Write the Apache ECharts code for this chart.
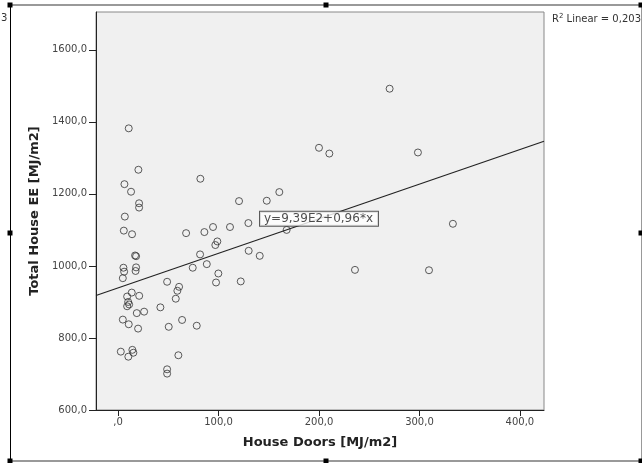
<!DOCTYPE html>
<html><head><meta charset="utf-8">
<script src="https://cdn.jsdelivr.net/npm/echarts@6/dist/echarts.min.js"></script>
<style>html,body{margin:0;padding:0;background:#fff}#c{width:642px;height:463px}</style>
</head><body><div id="c"></div>
<script>
// Data: House Doors [MJ/m2] (x) vs Total House EE [MJ/m2] (y)
var doorsX = [10.6,20.2,6.3,12.9,20.9,20.9,6.7,5.7,13.9,81.9,67.7,85.9,16.9,17.9,81.6,5.3,17.9,88.3,6,17.4,4.7,74.3,48.8,60.7,59,57.4,13.6,21,9,10,11,9,42.1,25.9,18.6,4.7,10.6,19.9,50.4,63.7,78.3,2.7,14.2,15.2,10.2,60,48.8,48.8,160.5,120.4,148,94.5,111.4,129.7,167.8,98.8,96.8,130,141,99.8,97.5,122.1,270.3,200,210.3,298.5,333.3,235.8,309.5];
var totalEE = [1382,1267,1227,1206,1174,1162,1137,1098,1088,1242,1091,1094,1029,1027,1032,995,996,1005,984,986,966,995,956,942,931,909,926,917,915,900,893,888,885,873,869,851,838,826,831,850,834,762,767,759,748,752,713,701,1205,1180,1181,1108,1108,1119,1100,1068,1058,1042,1028,979,954,957,1492,1328,1312,1315,1117,989,988];
var fitIntercept = 939;
var fitSlope = 0.96;
var fitLabelX = 200;
var xTicks = [0,100,200,300,400];
var yTicks = [600,800,1000,1200,1400,1600];
var xMin = -22, xMax = 424, yMin = 600, yMax = 1705;
var xTitle = 'House Doors [MJ/m2]';
var yTitle = 'Total House EE [MJ/m2]';
var fitText = 'y=9,39E2+0,96*x';

function fmt(v){ if (v === 0) return ',0'; return v.toFixed(1).replace('.', ','); }
var pts = doorsX.map(function(x,i){ return [x, totalEE[i]]; });
var fitLine = [[xMin, fitIntercept + fitSlope*xMin],[xMax, fitIntercept + fitSlope*xMax]];

var chart = echarts.init(document.getElementById('c'), null, {renderer:'canvas'});
var F = 'DejaVu Sans';
var handles = [[10,5],[326,5],[641,5],[10,233],[641,233],[10,461],[326,461],[641,461]];
var graphics = [
  {type:'line', shape:{x1:10,y1:5,x2:642,y2:5}, style:{stroke:'#777',lineWidth:1.5}, z:10},
  {type:'line', shape:{x1:10,y1:461,x2:642,y2:461}, style:{stroke:'#777',lineWidth:1.5}, z:10},
  {type:'line', shape:{x1:10.5,y1:5,x2:10.5,y2:461}, style:{stroke:'#000',lineWidth:1}, z:10},
  {type:'line', shape:{x1:641.5,y1:5,x2:641.5,y2:461}, style:{stroke:'#999',lineWidth:1}, z:10},
  {type:'text', left:1, top:13, style:{text:'3', font:'10px '+F, fill:'#333'}},
  {type:'text', right:1, top:13, style:{rich:{a:{font:'10px '+F, fill:'#333'}, s:{font:'7px '+F, fill:'#333', verticalAlign:'top', padding:[0,0,6,0]}}, text:'{a|R}{s|2}{a| Linear = 0,203}'}}
];
handles.forEach(function(h){
  graphics.push({type:'rect', shape:{x:h[0]-2.5,y:h[1]-2.5,width:5,height:5}, style:{fill:'#000'}, z:11});
});

chart.setOption({
  animation:false,
  backgroundColor:'#fff',
  textStyle:{fontFamily:F},
  grid:{left:96, right:98, top:12, bottom:53, show:true, backgroundColor:'#f0f0f0', borderColor:'#888', borderWidth:1, containLabel:false},
  xAxis:{type:'value', min:xMin, max:xMax,
    name:xTitle, nameLocation:'middle', nameGap:26,
    nameTextStyle:{fontFamily:F, fontSize:13, fontWeight:'bold', color:'#222'},
    axisLine:{show:true, onZero:false, lineStyle:{color:'#222', width:1}},
    axisTick:{show:true, length:6, lineStyle:{color:'#222'}, customValues:xTicks},
    axisLabel:{fontFamily:F, fontSize:10, color:'#444', margin:7, formatter:fmt, customValues:xTicks},
    splitLine:{show:false}},
  yAxis:{type:'value', min:yMin, max:yMax,
    name:yTitle, nameLocation:'middle', nameGap:55, nameRotate:90,
    nameTextStyle:{fontFamily:F, fontSize:13, fontWeight:'bold', color:'#222'},
    axisLine:{show:true, onZero:false, lineStyle:{color:'#222', width:1}},
    axisTick:{show:true, length:7, lineStyle:{color:'#222'}, customValues:yTicks},
    axisLabel:{fontFamily:F, fontSize:10, color:'#444', margin:9, formatter:fmt, customValues:yTicks},
    splitLine:{show:false}},
  graphic:graphics,
  series:[
    {type:'scatter', data:pts, symbol:'circle', symbolSize:7,
     itemStyle:{color:'rgba(0,0,0,0)', borderColor:'#333', borderWidth:1}, silent:true, z:3},
    {type:'line', data:fitLine, symbol:'none', lineStyle:{color:'#222', width:1.2}, silent:true, z:4},
    {type:'scatter', data:[[fitLabelX, fitIntercept + fitSlope*fitLabelX]], symbolSize:0, silent:true, z:6,
     label:{show:true, position:'inside', formatter:fitText, fontFamily:F, fontSize:12, color:'#222',
       backgroundColor:'#fff', borderColor:'#333', borderWidth:1, padding:[1,5,1,4]}}
  ]
});
</script></body></html>
